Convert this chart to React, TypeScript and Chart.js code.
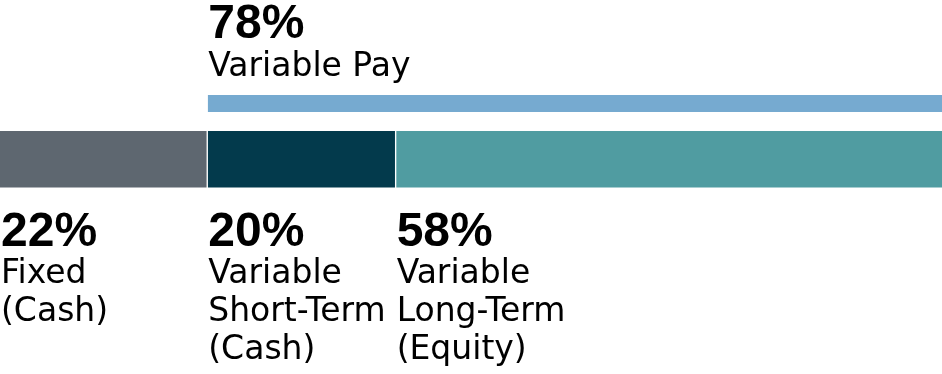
import React, { useEffect, useRef } from "react";
import { Chart, registerables } from "chart.js";

Chart.register(...registerables);

// Pay mix shares (percent of total compensation)
const segmentNames = ["Fixed", "Short-Term", "Long-Term"];
const segmentShares = [22, 20, 58];
const segmentLabelLines = [
  ["Fixed", "(Cash)"],
  ["Variable", "Short-Term", "(Cash)"],
  ["Variable", "Long-Term", "(Equity)"],
];
const segmentColors = ["#5e6770", "#033a4c", "#509ca1"];

const variablePayShare = 78;
const variablePayLabel = "Variable Pay";
const variablePayColor = "#76aad0";

const rowLabels = ["variable", "total"];

const PCT_FONT = "bold 48px 'Liberation Sans', Arial, sans-serif";
const TEXT_FONT = "33px 'DejaVu Sans', sans-serif";

export default function App() {
  const canvasRef = useRef<HTMLCanvasElement | null>(null);

  useEffect(() => {
    document.body.style.margin = "0";
    const canvas = canvasRef.current;
    if (!canvas) return;

    // cumulative start/end of each stacked segment
    const ranges: [number, number][] = [];
    let acc = 0;
    segmentShares.forEach((v) => {
      ranges.push([acc, acc + v]);
      acc += v;
    });
    const variableStart = acc - variablePayShare;

    const segmentDatasets = segmentShares.map((_, i) => ({
      label: segmentNames[i],
      data: [null, ranges[i]] as any,
      backgroundColor: segmentColors[i],
      borderColor: "#ffffff",
      borderWidth: {
        left: i === 0 ? 0 : 1,
        right: i === segmentShares.length - 1 ? 0 : 1,
        top: 0,
        bottom: 0,
      },
      borderSkipped: false,
      barThickness: 57,
    }));

    const variableDataset = {
      label: variablePayLabel,
      data: [[variableStart, acc], null] as any,
      backgroundColor: variablePayColor,
      borderColor: "#ffffff",
      borderWidth: { left: 1, right: 0, top: 0, bottom: 0 },
      borderSkipped: false,
      barThickness: 17,
    };

    const labelPlugin = {
      id: "payMixLabels",
      afterDatasetsDraw(chart: any) {
        const ctx = chart.ctx as CanvasRenderingContext2D;
        const xs = chart.scales.x;
        ctx.save();
        ctx.fillStyle = "#000000";
        ctx.textAlign = "left";
        ctx.textBaseline = "alphabetic";

        // labels above the variable pay bar
        const topBar = chart.getDatasetMeta(segmentDatasets.length).data[0];
        if (topBar) {
          const barTop = topBar.y - topBar.height / 2;
          const x = xs.getPixelForValue(variableStart) + 1;
          ctx.font = PCT_FONT;
          ctx.fillText(`${variablePayShare}%`, x, barTop - 57);
          ctx.font = TEXT_FONT;
          ctx.fillText(variablePayLabel, x, barTop - 19);
        }

        // labels below each segment of the main bar
        segmentShares.forEach((v, i) => {
          const bar = chart.getDatasetMeta(i).data[1];
          if (!bar) return;
          const barBottom = bar.y + bar.height / 2;
          const x = xs.getPixelForValue(ranges[i][0]) + 1;
          ctx.font = PCT_FONT;
          ctx.fillText(`${v}%`, x, barBottom + 58);
          ctx.font = TEXT_FONT;
          segmentLabelLines[i].forEach((line, j) => {
            ctx.fillText(line, x, barBottom + 95 + j * 38);
          });
        });
        ctx.restore();
      },
    };

    const chart = new Chart(canvas, {
      type: "bar",
      data: {
        labels: rowLabels,
        datasets: [...segmentDatasets, variableDataset] as any,
      },
      options: {
        indexAxis: "y",
        animation: false,
        responsive: false,
        maintainAspectRatio: false,
        grouped: false,
        layout: { padding: { top: 75.5, bottom: 186.5, left: 0, right: 0 } },
        scales: {
          x: { display: false, min: 0, max: 100 },
          y: { display: false, offset: true },
        },
        plugins: {
          legend: { display: false },
          tooltip: { enabled: false },
        },
      } as any,
      plugins: [labelPlugin],
    });

    return () => chart.destroy();
  }, []);

  return (
    <div style={{ position: "fixed", left: 0, top: 0, width: 942, height: 374, background: "#ffffff" }}>
      <canvas ref={canvasRef} width={942} height={374} style={{ display: "block" }} />
    </div>
  );
}
